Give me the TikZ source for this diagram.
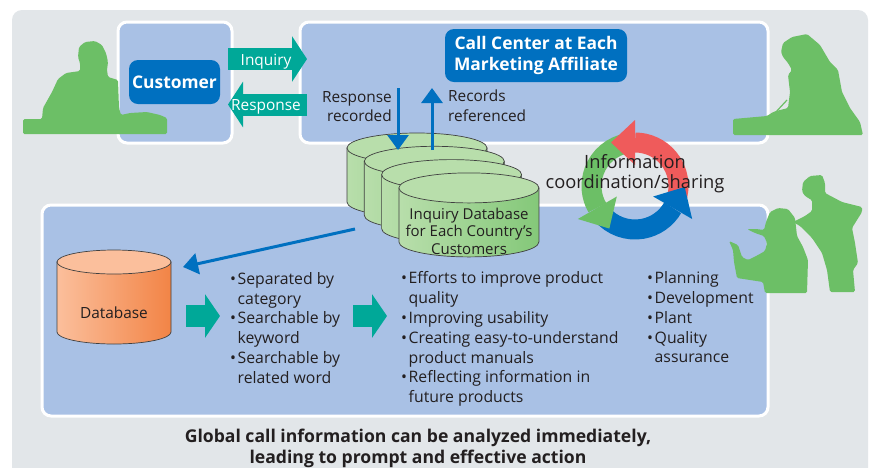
\documentclass[tikz,border=0pt]{standalone}
\usepackage{fontspec}
\setmainfont{Open Sans}
\usetikzlibrary{arrows.meta,calc}

\definecolor{bggray}{HTML}{E2E6E9}
\definecolor{boxblue}{HTML}{A9C1E5}
\definecolor{darkblue}{HTML}{0070C0}
\definecolor{callteal}{HTML}{00A898}
\definecolor{figgreen}{HTML}{6CBF66}
\definecolor{cyclered}{HTML}{EF5B5B}
\definecolor{cylgreen}{HTML}{B8DEAB}
\definecolor{cylgreendk}{HTML}{84C879}
\definecolor{dborange}{HTML}{FBBF9C}
\definecolor{dborangedk}{HTML}{F28446}
\definecolor{txt}{HTML}{231F20}

\newcommand\bitem{\makebox[7.5pt][l]{\textbullet}}
\newcommand\bgap{\hspace*{7.5pt}}

\begin{document}
\begin{tikzpicture}[x=1pt,y=-1pt,
    panel/.style={draw=white,line width=3pt,fill=boxblue,rounded corners=9pt,
      anchor=north west,inner sep=0pt,outer sep=0pt},
    headbox/.style={fill=darkblue,text=white,rounded corners=9pt,align=center,
      inner sep=0pt,font=\fontsize{17.4}{21}\selectfont\bfseries},
    flow/.style={line width=22pt,callteal,-{Triangle[width=45pt,length=15pt]}},
    flowtext/.style={midway,anchor=base,text=white,inner sep=0pt,
      font=\fontsize{15.4}{19}\selectfont},
    push/.style={line width=22pt,callteal,-{Triangle[width=43pt,length=15pt]}},
    link/.style={line width=3pt,darkblue,-{Triangle[width=21pt,length=15pt]}},
    note/.style={inner sep=0pt,text=txt,font=\fontsize{15.4}{19.5}\selectfont},
    bullets/.style={inner sep=0pt,anchor=north west,align=left,text=txt,
      font=\fontsize{15.8}{19.8}\selectfont},
    cyl/.style={draw=black!75,line width=0.7pt},
    person/.style={fill=figgreen,rounded corners=1.5pt}]

  \useasboundingbox (0,0) rectangle (872,467);
  \fill[white] (0,0) rectangle (872,467);
  \fill[bggray,rounded corners=10pt] (12,10) rectangle (868,480);

  % the three panels
  \node[panel,minimum width=114pt,minimum height=121pt] (custbox) at (118,22) {};
  \node[panel,minimum width=468pt,minimum height=121pt] (callbox) at (300,22) {};
  \node[panel,minimum width=726pt,minimum height=211pt] (infobox) at (42,205) {};

  % people
  \fill[person] (23,134) -- (23,119) -- (42,119) -- (43,108) -- (52,92) -- (58,79)
    -- (66,73) -- (80,71) -- (80,63) -- (78,57) -- (79,47) -- (85,42) -- (95,41)
    -- (102,45) -- (106,53) -- (108,62) -- (107,70) -- (108,77) -- (118,80)
    -- (119,108) -- (121,115) -- (130,113) -- (147,112) -- (160,115) -- (167,118)
    -- (167,134) -- cycle;
  \fill[person] (733,135) -- (733,119) -- (767,116) -- (773,112) -- (780,110)
    -- (788,108) -- (790,92) -- (788,75) -- (792,70) -- (788,63) -- (783,57)
    -- (781,52) -- (783,43) -- (792,37) -- (807,34) -- (820,45) -- (830,62)
    -- (838,70) -- (842,92) -- (850,108) -- (860,122) -- (863,135) -- cycle;
  \draw[figgreen,line width=1.2pt] (775,113) -- (787,100);
  \fill[person] (803,182) -- (810,176) -- (822,175) -- (825,183) -- (825,193)
    -- (842,202) -- (862,207) -- (862,212) -- (852,228) -- (855,243) -- (858,263)
    -- (853,270) -- (855,292) -- (830,292) -- (827,270) -- (822,253) -- (812,238)
    -- (800,226) -- (793,222) -- (805,216) -- (812,211) -- (812,200) -- (808,198)
    -- (804,195) -- (802,191) -- cycle;
  \fill[person] (778,208) -- (788,209) -- (795,218) -- (797,236) -- (803,247)
    -- (808,260) -- (807,293) -- (765,293) -- (763,282) -- (750,280) -- (737,278)
    -- (734,262) -- (733,250) -- (729,241) -- (738,245) -- (742,257) -- (748,260)
    -- (758,255) -- (765,251) -- (767,243) -- (764,236) -- (755,233) -- (747,229)
    -- (756,229) -- (764,230) -- (766,222) -- (770,212) -- cycle;

  % customer and call center
  \node[headbox,minimum width=91pt,minimum height=44pt] (cust) at (174.5,82) {Customer};
  \node[headbox,minimum width=182pt,minimum height=53pt] (callctr) at (536,55.5)
    {Call Center at Each\\Marketing Affiliate};

  \draw[flow,shorten <=-4pt,shorten >=-7pt] ([yshift=23.5pt]custbox.east)
    -- ([yshift=23.5pt]callbox.west) node[flowtext,yshift=-6pt] (inq) {Inquiry};
  \draw[flow,shorten <=-7pt,shorten >=-4pt] ([yshift=-22pt]callbox.west)
    -- ([yshift=-22pt]custbox.east) node[flowtext,yshift=-5.5pt] (resp) {Response};

  % information sharing cycle
  \coordinate (cyc) at (635,186);
  \foreach \a/\col in {20/cyclered,-100/figgreen,-220/darkblue}
    \draw[line width=20pt,\col] ($(cyc)+(\a:43.5)$)
      arc[start angle=\a,end angle=\a-110,radius=43.5];
  \foreach \b/\col in {-90/cyclered,-210/figgreen,-330/darkblue}
    \fill[\col] ($(cyc)+(\b:66)$) -- ($(cyc)+(\b:21)$)
      -- ($(cyc)+(\b:43.5)+(\b-90:24)$) -- cycle;
  \node[note,align=center,font=\fontsize{18.3}{20}\selectfont,anchor=north] (info)
    at (635,154) {Information\\coordination/sharing};

  % inquiry databases
  \foreach \i in {0,...,3} {
    \coordinate (cyl\i) at (417+17.3*\i,148+13.3*\i);
    \path[cyl,left color=cylgreen,right color=cylgreendk]
      ($(cyl\i)+(-70,0)$) -- ++(0,54)
      arc[start angle=180,end angle=0,x radius=70,y radius=15] -- ++(0,-54) -- cycle;
    \filldraw[cyl,fill=cylgreen] (cyl\i) ellipse[x radius=70,y radius=15];
  }
  \node[note,align=center,font=\fontsize{15}{17.2}\selectfont,anchor=north] (idb)
    at (469,208) {Inquiry Database\\for Each Country’s\\Customers};

  \coordinate (rec-a) at (398,88);
  \coordinate (rec-b) at (398,150);
  \coordinate (ref-a) at (432,150);
  \coordinate (ref-b) at (432,88);
  \draw[link] (rec-a) -- (rec-b);
  \draw[link] (ref-a) -- (ref-b);
  \node[note,anchor=north east,align=right] (recd) at (392,91) {Response\\recorded};
  \node[note,anchor=north west,align=left] (refd) at (448,90) {Records\\referenced};

  % database
  \coordinate (dbtop) at (114,262);
  \path[cyl,left color=dborange,right color=dborangedk]
    ($(dbtop)+(-57,0)$) -- ++(0,70)
    arc[start angle=180,end angle=0,x radius=57,y radius=12] -- ++(0,-70) -- cycle;
  \filldraw[cyl,fill=dborange] (dbtop) ellipse[x radius=57,y radius=12];
  \node[note,anchor=base] (db) at (114,318) {Database};

  \coordinate (idb-out) at (355,229);
  \coordinate (db-in) at (183,267);
  \draw[link] (idb-out) -- (db-in);

  % analysis steps
  \coordinate (push1-a) at (186,316);
  \coordinate (push1-b) at (220,316);
  \coordinate (push2-a) at (353,316);
  \coordinate (push2-b) at (387,316);
  \draw[push] (push1-a) -- (push1-b);
  \draw[push] (push2-a) -- (push2-b);

  \node[bullets] (sep) at (230,272) {\bitem Separated by\\\bgap category\\
    \bitem Searchable by\\\bgap keyword\\\bitem Searchable by\\\bgap related word};
  \node[bullets] (eff) at (401,271.5) {\bitem Efforts to improve product\\\bgap quality\\
    \bitem Improving usability\\\bitem Creating easy-to-understand\\\bgap product manuals\\
    \bitem Reflecting information in\\\bgap future products};
  \node[bullets] (dept) at (647,271.5) {\bitem Planning\\\bitem Development\\
    \bitem Plant\\\bitem Quality\\\bgap assurance};

  \node[note,anchor=north,align=center,font=\fontsize{17.6}{20.5}\selectfont\bfseries]
    (summary) at (418,429) {Global call information can be analyzed immediately,\\
    leading to prompt and effective action};
\end{tikzpicture}
\end{document}
